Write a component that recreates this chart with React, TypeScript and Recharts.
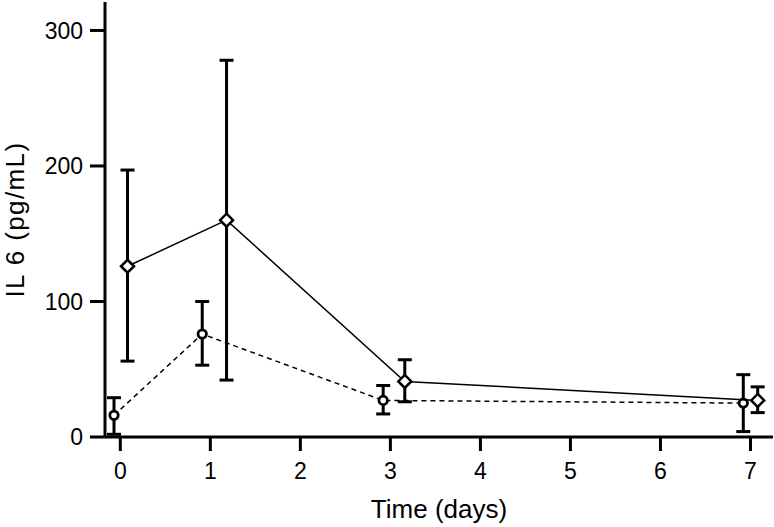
import { ErrorBar, ReferenceArea, Scatter, ScatterChart, XAxis, YAxis } from 'recharts'

// dashed series (circles)
const dashedDays = [-0.07, 0.91, 2.92, 6.92]
const dashedMean = [16, 76, 27, 25]
const dashedLow = [2, 53, 17, 4]
const dashedHigh = [29, 100, 38, 46]

// solid series (diamonds)
const solidDays = [0.08, 1.18, 3.16, 7.08]
const solidMean = [126, 160, 41, 27]
const solidLow = [56, 42, 26, 18]
const solidHigh = [197, 278, 57, 37]

const xTicks = [0, 1, 2, 3, 4, 5, 6, 7]
const yTicks = [0, 100, 200, 300]

const build = (days: number[], mean: number[], low: number[], high: number[]) =>
  days.map((d, i) => ({ day: d, il6: mean[i], err: [mean[i] - low[i], high[i] - mean[i]] }))

const dashedData = build(dashedDays, dashedMean, dashedLow, dashedHigh)
const solidData = build(solidDays, solidMean, solidLow, solidHigh)

const font = '"Liberation Sans", Arial, sans-serif'

const Circle = (props: any) => {
  const { cx, cy } = props
  return <circle cx={cx} cy={cy} r={4.2} fill="#fff" stroke="#000" strokeWidth={2.8} />
}

const Diamond = (props: any) => {
  const { cx, cy } = props
  const s = 6.5
  return (
    <path
      d={`M${cx},${cy - s}L${cx + s},${cy}L${cx},${cy + s}L${cx - s},${cy}Z`}
      fill="#fff"
      stroke="#000"
      strokeWidth={2.5}
    />
  )
}

const App = () => {
  return (
    <div style={{ position: 'absolute', left: 0, top: 0, background: '#fff' }}>
      <ScatterChart width={774} height={527} margin={{ top: 2, right: 1, left: 0, bottom: 0 }}>
        <XAxis
          type="number"
          dataKey="day"
          domain={[-0.17, 7.25]}
          ticks={xTicks}
          allowDataOverflow
          height={90}
          tickSize={14}
          tickMargin={12}
          axisLine={{ stroke: '#000', strokeWidth: 3 }}
          tickLine={{ stroke: '#000', strokeWidth: 3 }}
          tick={{ fill: '#000', fontSize: 23, fontFamily: font }}
          label={{ value: 'Time (days)', position: 'insideBottom', offset: 9, fill: '#000', fontSize: 26, fontFamily: font }}
        />
        <YAxis
          type="number"
          dataKey="il6"
          domain={[0, 321]}
          ticks={yTicks}
          allowDataOverflow
          width={105}
          tickSize={15}
          tickMargin={7}
          axisLine={{ stroke: '#000', strokeWidth: 3 }}
          tickLine={{ stroke: '#000', strokeWidth: 3 }}
          tick={{ fill: '#000', fontSize: 23, fontFamily: font }}
          label={{
            value: 'IL 6 (pg/mL)',
            angle: -90,
            position: 'insideLeft',
            offset: 15,
            fill: '#000',
            fontSize: 26,
            fontFamily: font,
            style: { textAnchor: 'middle', letterSpacing: 1.4 }
          }}
        />
        <ReferenceArea fill="none" stroke="#000" strokeWidth={3} />
        <Scatter
          data={dashedData}
          line={{ stroke: '#000', strokeWidth: 1.5, strokeDasharray: '5 4' }}
          shape={Circle}
          isAnimationActive={false}
        >
          <ErrorBar dataKey="err" direction="y" width={7} stroke="#000" strokeWidth={3} />
        </Scatter>
        <Scatter
          data={solidData}
          line={{ stroke: '#000', strokeWidth: 1.5 }}
          shape={Diamond}
          isAnimationActive={false}
        >
          <ErrorBar dataKey="err" direction="y" width={7} stroke="#000" strokeWidth={3} />
        </Scatter>
      </ScatterChart>
    </div>
  )
}

export default App
